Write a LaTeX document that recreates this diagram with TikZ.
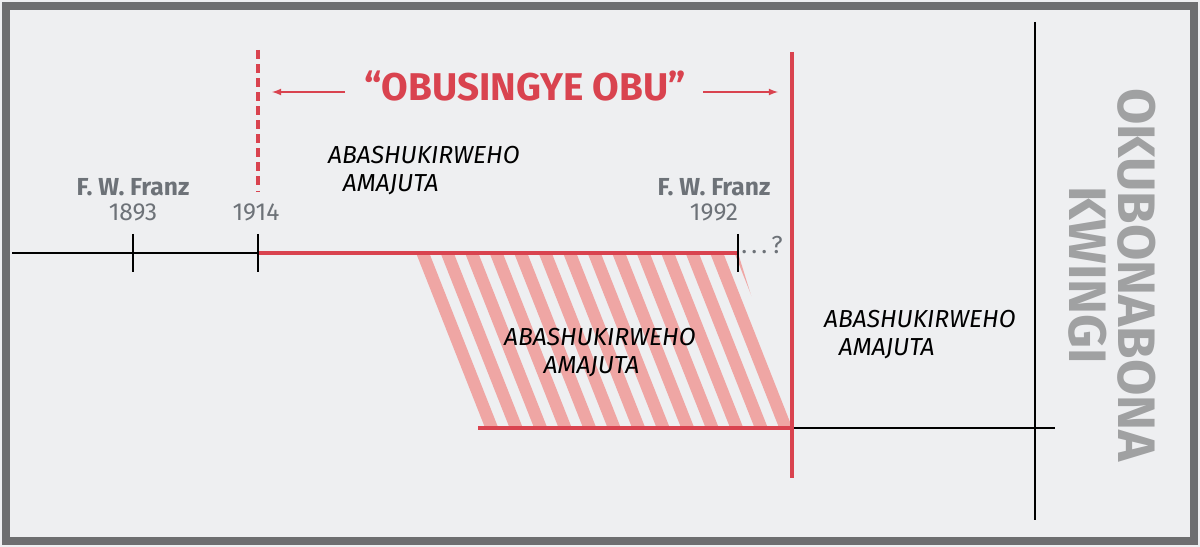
\documentclass[tikz,border=0pt]{standalone}
\usepackage{fontspec}
\setmainfont{Fira Sans}
\definecolor{bg}{HTML}{EEEFF1}
\definecolor{frame}{HTML}{6D6E70}
\definecolor{jred}{HTML}{D9434F}
\definecolor{jpink}{HTML}{EFA6A4}
\definecolor{jgray}{HTML}{6D7278}
\tikzset{
  lbl/.style={font=\fontsize{14}{16}\selectfont\itshape, align=left},
  franz/.style={font=\fontsize{14}{16}\selectfont\bfseries, text=jgray, align=center},
  yr/.style={font=\fontsize{14}{16}\selectfont, text=jgray}
}
\begin{document}
\begin{tikzpicture}[x=0.02cm,y=-0.02cm]
\useasboundingbox (0,0) rectangle (1200,547);
\fill[bg] (0,0) rectangle (1200,547);
\draw[frame,line width=5pt] (6,6) rectangle (1194,541);
% hatch
\begin{scope}
\clip (410,253)--(738,253)--(792,428)--(478,428)--cycle;
\foreach \i in {0,...,16}
  \draw[jpink,line width=7pt] (395+\i*24.5,245)--++(75,190);
\end{scope}
% timelines
\draw[thick] (12,253)--(258,253);
\draw[jred,line width=2pt] (258,253)--(738,253);
\draw[jred,line width=2pt] (478,428)--(792,428);
\draw[thick] (792,428)--(1055,428);
\draw[thick] (1035,22)--(1035,520);
\foreach \x in {133,258,738} \draw[thick] (\x,234)--(\x,272);
\node[yr] (q) at (762,245) {.\,.\,.\,?};
\draw[jred,line width=2pt,dash pattern=on 5pt off 3pt] (258,50)--(258,192);
\draw[jred,line width=2pt] (792,52)--(792,478);
% heading
\node[font=\fontsize{22}{26}\selectfont\bfseries, text=jred] (ob) at (525,86) {“OBUSINGYE OBU”};
\draw[jred,thick,-latex] (345,92)--(272,92);
\draw[jred,thick,-latex] (703,92)--(778,92);
% labels
\node[franz] (f1) at (133,187) {F. W. Franz};
\node[yr] (y1) at (133,212) {1893};
\node[yr] (y2) at (256,212) {1914};
\node[franz] (f2) at (714,187) {F. W. Franz};
\node[yr] (y3) at (714,212) {1992};
\node[lbl,anchor=west] (a1) at (322,171) {ABASHUKIRWEHO\\\hspace*{0.6em}AMAJUTA};
\node[lbl,anchor=west] (a2) at (498,353) {ABASHUKIRWEHO\\\hspace*{1.6em}AMAJUTA};
\node[lbl,anchor=west] (a3) at (818,335) {ABASHUKIRWEHO\\\hspace*{0.6em}AMAJUTA};
\node[rotate=-90, font=\fontsize{30}{28}\selectfont\bfseries, text=frame!65, align=center] (ok) at (1112,275) {OKUBONABONA\\KWINGI};
\end{tikzpicture}
\end{document}
